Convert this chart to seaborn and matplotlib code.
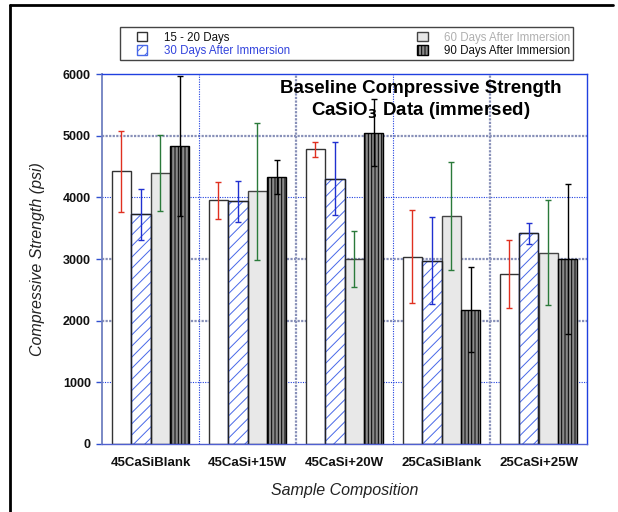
import matplotlib
matplotlib.use("Agg")
import matplotlib.pyplot as plt
import seaborn as sns
import pandas as pd
from matplotlib.patches import Rectangle
from matplotlib.lines import Line2D

# ---- data ----
categories = ["45CaSiBlank", "45CaSi+15W", "45CaSi+20W", "25CaSiBlank", "25CaSi+25W"]
series = ["15 - 20 Days", "30 Days After Immersion", "60 Days After Immersion", "90 Days After Immersion"]
d15 = [4420, 3950, 4780, 3040, 2760]
d30 = [3725, 3935, 4300, 2975, 3420]
d60 = [4400, 4100, 3000, 3700, 3100]
d90 = [4830, 4325, 5050, 2180, 3000]
e15 = [650, 300, 125, 760, 555]
e30 = [410, 330, 590, 710, 170]
e60 = [615, 1110, 455, 880, 850]
e90 = [1130, 275, 540, 685, 1220]
yticks = [0, 1000, 2000, 3000, 4000, 5000, 6000]

values = [d15, d30, d60, d90]
errors = [e15, e30, e60, e90]

rows = []
for s, vals in zip(series, values):
    for c, v in zip(categories, vals):
        rows.append({"Sample": c, "Strength": v, "Series": s})
df = pd.DataFrame(rows)

sns.set_theme(style="white")
plt.rcParams["font.family"] = ["Liberation Sans", "DejaVu Sans"]
plt.rcParams["hatch.linewidth"] = 0.7
plt.rcParams["text.color"] = "black"
plt.rcParams["axes.labelcolor"] = "#111111"
plt.rcParams["xtick.color"] = "#111111"
plt.rcParams["ytick.color"] = "#111111"

fig = plt.figure(figsize=(6.18, 5.12), dpi=100)
ax = fig.add_axes([102 / 618, 1 - 444 / 512, 485 / 618, 370 / 512])

sns.barplot(data=df, x="Sample", y="Strength", hue="Series", order=categories,
            hue_order=series, errorbar=None, width=0.8, legend=False, ax=ax,
            zorder=3)
bar_containers = list(ax.containers)

faces = ["white", "white", "#e8e8e8", "#8a8a8a"]
edges = ["#333333", "#4868e8", "#444444", "black"]
hatches = [None, "///", None, "|||||"]
ecolors = ["#e03020", "#2030d0", "#2a7a3a", "black"]

for i, cont in enumerate(bar_containers):
    for p in cont.patches:
        p.set_facecolor(faces[i])
        p.set_edgecolor(edges[i])
        p.set_linewidth(1.0)
        p.set_zorder(3)
        if hatches[i]:
            p.set_hatch(hatches[i])
        if i == 1:
            outline = Rectangle(p.get_xy(), p.get_width(), p.get_height(),
                                fill=False, edgecolor="#222222", linewidth=1.0, zorder=3.5)
            ax.add_patch(outline)
    xs = [p.get_x() + p.get_width() / 2 for p in cont.patches]
    ys = [p.get_height() for p in cont.patches]
    ax.errorbar(xs, ys, yerr=errors[i], fmt="none", ecolor=ecolors[i],
                elinewidth=1.0, capsize=2.0, capthick=1.0, zorder=4)

ax.set_ylim(0, 6000)
ax.set_xlim(-0.5, len(categories) - 0.5)
ax.set_yticks(yticks)
ax.set_yticklabels([str(t) for t in yticks], fontweight="bold", fontsize=9)
ax.set_xticks(range(len(categories)))
ax.set_xticklabels(categories, fontweight="bold", fontsize=9.5)
ax.set_xticks([0.5, 1.5, 2.5, 3.5], minor=True)
ax.tick_params(axis="y", which="major", left=True, length=4, color="#3050d0",
               width=1, pad=4, direction="out")
ax.tick_params(axis="x", which="both", bottom=False, length=0, pad=9)

# grid lines drawn at tick positions
grey_style = dict(color="#8890b8", linewidth=1.6, linestyle=(0, (1, 0.6)), zorder=0.5)
blue_style = dict(color="#2040e0", linewidth=0.8, linestyle=(0, (1, 1.2)), zorder=0.5)
ystyles = {1000: blue_style, 2000: grey_style, 3000: grey_style, 4000: blue_style, 5000: grey_style}
for t in ax.get_yticks():
    st = ystyles.get(int(t))
    if st is not None:
        ax.axhline(t, **st)
xstyles = [blue_style, grey_style, blue_style, grey_style]
for st, t in zip(xstyles, ax.get_xticks(minor=True)):
    ax.axvline(t, **st)

for side in ["top", "right", "bottom"]:
    ax.spines[side].set_color("#2040e0")
    ax.spines[side].set_linewidth(1.0)
ax.spines["left"].set_color("#7080c0")
ax.spines["left"].set_linewidth(1.3)
ax.spines["bottom"].set_color("#5060d0")
for s in ax.spines.values():
    s.set_zorder(5)

ax.set_ylabel("Compressive Strength (psi)", fontsize=11.5, fontstyle="italic", color="#222222")
ax.yaxis.set_label_coords(-0.117, 0.5)
ax.set_xlabel("Sample Composition", fontsize=11.5, fontstyle="italic", color="#222222")
ax.xaxis.set_label_coords(0.5, -0.105)

ax.text(0.657, 0.962, "Baseline Compressive Strength", transform=ax.transAxes,
        ha="center", va="center", fontsize=13.5, fontweight="bold", color="black", zorder=6)
ax.text(0.657, 0.902, r"CaSiO$_\mathbf{3}$ Data (immersed)", transform=ax.transAxes,
        ha="center", va="center", fontsize=13.5, fontweight="bold", color="black", zorder=6)

# legend (frameless content + separate frame box)
leg = fig.legend(handles=bar_containers, labels=series, ncol=2,
                 loc="lower left", mode="expand",
                 bbox_to_anchor=(137 / 618, 1 - 57 / 512, 433 / 618, 26 / 512),
                 borderaxespad=0, fontsize=8.3, handlelength=0.9, handleheight=0.9,
                 handletextpad=1.4, labelspacing=0.12, borderpad=0.0,
                 fancybox=False, frameon=False)
for txt, col in zip(leg.get_texts(), ["#111111", "#3344dd", "#b0b0b0", "#111111"]):
    txt.set_color(col)
fig.add_artist(Rectangle((120 / 618, 1 - 60 / 512), 453 / 618, 33 / 512, fill=False,
                         edgecolor="#444444", linewidth=1.0, transform=fig.transFigure))

# page border lines
fig.add_artist(Line2D([10 / 618, 613 / 618], [1 - 5 / 512, 1 - 5 / 512], color="black",
                      linewidth=2, transform=fig.transFigure))
fig.add_artist(Line2D([10 / 618, 10 / 618], [1 - 5 / 512, 0], color="black",
                      linewidth=2, transform=fig.transFigure))

fig.savefig("out.png", dpi=100)
